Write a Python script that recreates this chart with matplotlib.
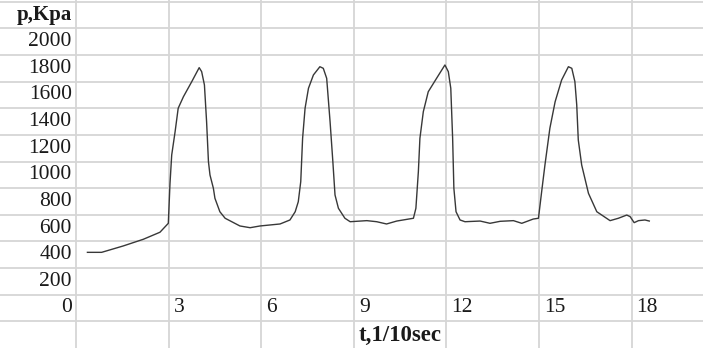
import numpy as np
import matplotlib
matplotlib.use('Agg')
import matplotlib.pyplot as plt

# pressure trace: t in 1/10 sec, p in Kpa
t = [0.37, 0.83, 1.53, 2.18, 2.72, 2.99, 3.045, 3.10, 3.21, 3.31, 3.48, 3.75,
     3.99, 4.07, 4.16, 4.23, 4.29, 4.34, 4.45, 4.50, 4.66, 4.83, 5.31, 5.64,
     5.96, 6.61, 6.93, 7.10, 7.20, 7.28, 7.34, 7.42, 7.53, 7.69, 7.90, 8.01,
     8.12, 8.23, 8.32, 8.39, 8.50, 8.71, 8.88, 9.42, 9.74, 10.06, 10.39,
     10.93, 11.01, 11.09, 11.14, 11.25, 11.41, 11.68, 11.95, 12.06, 12.14,
     12.20, 12.24, 12.31, 12.44, 12.60, 13.09, 13.41, 13.74, 14.17, 14.44,
     14.81, 14.98, 15.09, 15.19, 15.35, 15.52, 15.73, 15.95, 16.06, 16.16,
     16.22, 16.27, 16.38, 16.60, 16.87, 17.30, 17.57, 17.84, 17.95, 18.08,
     18.22, 18.43, 18.57]
p = [418, 418, 466, 516, 569, 636, 937, 1149, 1324, 1500, 1587, 1700,
     1805, 1775, 1675, 1399, 1099, 999, 899, 824, 723, 674, 616, 603,
     616, 631, 661, 723, 798, 949, 1274, 1500, 1650, 1750, 1812, 1800,
     1725, 1399, 1099, 849, 749, 674, 648, 656, 648, 631, 653,
     674, 749, 1024, 1274, 1474, 1624, 1725, 1825, 1775, 1650,
     1274, 899, 723, 661, 648, 653, 636, 651, 656, 636,
     668, 674, 886, 1074, 1350, 1549, 1712, 1812, 1800, 1700,
     1525, 1262, 1074, 861, 723, 656, 674, 698, 686, 641,
     656, 661, 653]

y_ticks = [0, 200, 400, 600, 800, 1000, 1200, 1400, 1600, 1800, 2000]
x_ticks = [3, 6, 9, 12, 15, 18]
y_title = 'p,Kpa'
x_title = 't,1/10sec'

plt.rcParams['font.family'] = 'Liberation Serif'

fig = plt.figure(figsize=(7.03, 3.48), dpi=100)
ax = fig.add_axes([0, 0, 1, 1])
ax.set_xlim(-2.462, 20.31)
ax.set_ylim(-300.4, 2313)
ax.axis('off')

# spreadsheet-like cell borders
for v in np.arange(-100, 2301, 200):
    ax.axhline(v, color='#d6d6d6', lw=1.3, zorder=0)
for x in np.arange(0, 21, 3):
    ax.axvline(x, color='#d6d6d6', lw=1.3, zorder=0)

ax.plot(t, p, color='#383838', lw=1.0)

txt = '#1a1a1a'
for v in y_ticks:
    ax.text(-0.14, v, str(v), ha='right', va='center', fontsize=15.5, color=txt)
for x in x_ticks:
    ax.text(x + 0.16, 0, str(x), ha='left', va='center', fontsize=15.5, color=txt)
ax.text(-0.14, 2200, y_title, ha='right', va='center', fontsize=15,
        fontweight='bold', color=txt)
ax.text(10.5, -210, x_title, ha='center', va='center', fontsize=16.5,
        fontweight='bold', color=txt)

fig.savefig('out.png', dpi=100)
